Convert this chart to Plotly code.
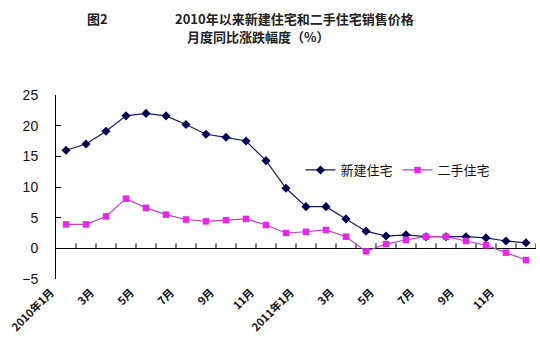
import plotly.graph_objects as go

months_idx = list(range(24))
tick_labels = ["2010年1月", "3月", "5月", "7月", "9月", "11月",
               "2011年1月", "3月", "5月", "7月", "9月", "11月"]
new_homes = [16.0, 17.0, 19.1, 21.6, 22.0, 21.6, 20.2, 18.6, 18.1, 17.5, 14.3, 9.8,
             6.8, 6.8, 4.8, 2.8, 2.0, 2.2, 1.9, 1.9, 1.9, 1.7, 1.2, 0.9]
second_homes = [3.9, 3.9, 5.2, 8.1, 6.6, 5.5, 4.7, 4.4, 4.6, 4.8, 3.8, 2.5,
                2.7, 3.0, 1.9, -0.5, 0.7, 1.4, 1.9, 1.9, 1.2, 0.5, -0.7, -1.9]
series_names = ["新建住宅", "二手住宅"]

W, H = 540, 361
ML, MR, MT, MB = 56, 4, 95, 82
y_min, y_max = -5, 25

cjk = "Noto Sans CJK SC"
pw = W - ML - MR
ph = H - MT - MB
tick_units = 5 * (y_max - y_min) / ph  # 5px tick length in y units

def px_x(p):
    return (p - ML) / pw

def px_y(p):
    return (H - MB - p) / ph

fig = go.Figure()

# category-boundary tick marks on the zero line (axis decoration), pointing up
tx, ty = [], []
for i in months_idx:
    tx += [i + 0.5, i + 0.5, None]
    ty += [0, tick_units, None]
fig.add_trace(go.Scatter(x=tx, y=ty, mode="lines", line=dict(color="black", width=1),
                         showlegend=False, hoverinfo="skip"))

fig.add_trace(go.Scatter(
    x=months_idx, y=new_homes, name=series_names[0], mode="lines+markers",
    line=dict(color="#1a1a5e", width=1.2),
    marker=dict(symbol="diamond", size=7, color="#000055"),
))
fig.add_trace(go.Scatter(
    x=months_idx, y=second_homes, name=series_names[1], mode="lines+markers",
    line=dict(color="#c040c0", width=1.2),
    marker=dict(symbol="square", size=6.5, color="#ee22ee"),
))

fig.update_layout(
    width=W, height=H,
    margin=dict(l=ML, r=MR, t=MT, b=MB),
    paper_bgcolor="white", plot_bgcolor="white",
    showlegend=True,
    legend=dict(orientation="h", x=px_x(398), xanchor="center",
                y=px_y(170), yanchor="middle",
                font=dict(family=cjk, size=13, color="#111"),
                bgcolor="rgba(0,0,0,0)", itemwidth=30, tracegroupgap=0),
    xaxis=dict(range=[-0.5, 23.5], tickmode="array", tickvals=months_idx[::2],
               ticktext=tick_labels, tickangle=-45, ticks="", showline=False,
               showgrid=False, zeroline=False, automargin=False,
               tickfont=dict(family=cjk, size=11, color="#111", weight="bold"),
               ticklabelstandoff=4, ticklabelshift=-15, ticklabeloverflow="allow"),
    yaxis=dict(range=[y_min, y_max], dtick=5, tick0=0, ticks="inside", ticklen=5,
               tickcolor="black", showline=True, linecolor="black", linewidth=1,
               showgrid=False, zeroline=True, zerolinecolor="black", zerolinewidth=1,
               automargin=False,
               tickfont=dict(family="Liberation Sans", size=14, color="#111"),
               ticklabelstandoff=14),
)

title_font = dict(family=cjk, size=13, color="#222", weight="bold")
fig.add_annotation(text="图2", xref="paper", yref="paper", x=px_x(85), xanchor="left",
                   y=px_y(18), yanchor="middle", showarrow=False, font=title_font)
fig.add_annotation(text="2010年以来新建住宅和二手住宅销售价格", xref="paper", yref="paper",
                   x=px_x(173), xanchor="left", y=px_y(18), yanchor="middle",
                   showarrow=False, font=title_font)
fig.add_annotation(text="月度同比涨跌幅度（%）", xref="paper", yref="paper",
                   x=px_x(185), xanchor="left", y=px_y(37), yanchor="middle",
                   showarrow=False, font=title_font)

# remove the default 8px page margin so the 540x361 figure fills the window exactly
fig.write_html("out.html", config={"displayModeBar": False},
               post_script="document.body.style.margin='0';")
